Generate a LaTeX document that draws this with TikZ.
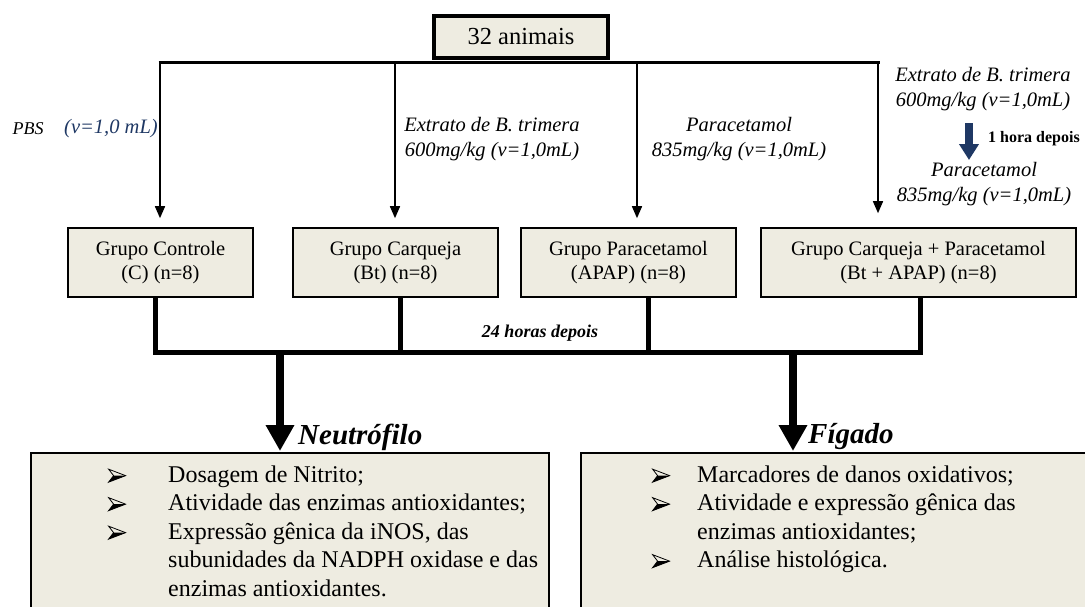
\documentclass[tikz,border=0pt]{standalone}
\usepackage{fontspec}
\setmainfont{Liberation Serif}
\usetikzlibrary{arrows.meta}
\definecolor{boxfill}{HTML}{EEECE1}
\definecolor{navyc}{HTML}{1F3864}
\newcommand{\mybullet}{\tikz[x=1pt,y=1pt,baseline=0pt,line join=miter]{%
  \fill[black] (0,0)--(17,6.5)--(5,6.5)--cycle;
  \draw[line width=0.8pt] (0,13)--(17,6.5)--(0,0)--(5,6.5)--cycle;}}
\begin{document}
\begin{tikzpicture}[x=1pt,y=-1pt,
  grp/.style={draw, line width=1.6pt, fill=boxfill, minimum height=69pt, align=center,
    font=\fontsize{20.5}{24}\selectfont, inner sep=0pt},
  topbox/.style={draw, line width=4pt, fill=boxfill, minimum width=174pt, minimum height=42pt,
    font=\fontsize{24.5}{28}\selectfont, inner sep=0pt},
  lab/.style={align=center, font=\fontsize{20.5}{25}\selectfont\itshape, inner sep=0pt},
  thinarrow/.style={line width=1.5pt, -{Triangle[width=10pt,length=12pt]}},
  thickline/.style={line width=5pt},
  bigarrow/.style={line width=8.5pt, -{Triangle[width=27pt,length=26pt]}},
  bbox/.style={draw, line width=1.6pt, fill=boxfill, anchor=north west, inner sep=0pt},
  btext/.style={anchor=north west, inner sep=0pt, font=\fontsize{24}{28.5}\selectfont},
  head/.style={anchor=west, inner sep=0pt, font=\fontsize{29}{32}\selectfont\bfseries\itshape}
]
\useasboundingbox (0,0) rectangle (1085,606);

% top box and distribution line
\node[topbox] (top) at (521,37) {32 animais};
\coordinate (h1) at (160,62);
\coordinate (h2) at (395,62);
\coordinate (h3) at (637,62);
\coordinate (h4) at (878,62);
\draw[line width=3pt] ([xshift=-1.5pt]h1) -- ([xshift=1.5pt]h4);

% group boxes
\node[grp, minimum width=185pt] (gC) at (160.5,262.5) {Grupo Controle\\(C) (n=8)};
\node[grp, minimum width=205pt] (gB) at (395.5,262.5) {Grupo Carqueja\\(Bt) (n=8)};
\node[grp, minimum width=215pt] (gP) at (628.5,262.5) {Grupo Paracetamol\\(APAP) (n=8)};
\node[grp, minimum width=315pt] (gBP) at (918.5,262.5) {Grupo Carqueja + Paracetamol\\(Bt + APAP) (n=8)};

% arrows to groups
\draw[thinarrow] (h1) -- ([yshift=9pt]h1 |- gC.north);
\draw[thinarrow] (h2) -- ([yshift=9pt]h2 |- gB.north);
\draw[thinarrow] (h3) -- ([yshift=9pt]h3 |- gP.north);
\draw[thinarrow] (h4) -- ([yshift=14pt]h4 |- gBP.north);

% treatment labels
\node[inner sep=0pt, font=\fontsize{18}{22}\selectfont\itshape] (pbs) at (28,129) {PBS};
\node[inner sep=0pt, font=\fontsize{20.5}{25}\selectfont\itshape, text=navyc] (pbsv) at (111,129) {(v=1,0 mL)};
\node[lab] (lB) at (492,139.5) {Extrato de B. trimera\\600mg/kg (v=1,0mL)};
\node[lab] (lP) at (739,139.5) {Paracetamol\\835mg/kg (v=1,0mL)};
\node[lab] (lR1) at (983,89) {Extrato de B. trimera\\600mg/kg (v=1,0mL)};
\node[lab] (lR2) at (984,184.5) {Paracetamol\\835mg/kg (v=1,0mL)};
\coordinate (na1) at (969,123);
\coordinate (na2) at (969,160);
\draw[navyc, line width=8pt, -{Triangle[width=19pt,length=16pt]}] (na1) -- (na2);
\node[anchor=west, inner sep=0pt, font=\fontsize{16}{18}\selectfont\bfseries] (hr) at (988,139) {1 hora depois};

% collecting lines
\coordinate (j1) at (155,352);
\coordinate (j2) at (400,352);
\coordinate (j3) at (648,352);
\coordinate (j4) at (920,352);
\draw[thickline] (j1 |- gC.south) -- (j1) -- (j4) -- (j4 |- gBP.south);
\draw[thickline] (j2 |- gB.south) -- (j2);
\draw[thickline] (j3 |- gP.south) -- (j3);
\node[inner sep=0pt, font=\fontsize{18}{20}\selectfont\bfseries\itshape] (h24) at (540,333) {24 horas depois};

% bottom boxes
\node[bbox, minimum width=518pt, minimum height=170pt] (nL) at (30,452) {};
\node[bbox, minimum width=520pt, minimum height=170pt] (nR) at (580,452) {};
\coordinate (d1) at (280,352);
\coordinate (d2) at (793,352);
\draw[bigarrow] (d1) -- ([yshift=1pt]d1 |- nL.north);
\draw[bigarrow] (d2) -- ([yshift=1pt]d2 |- nR.north);
\node[head] (hn) at (298,437) {Neutrófilo};
\node[head] (hf) at (808,437) {Fígado};

\node[btext] (tL) at (108,462) {\begin{tabular}{@{}l@{}l@{}}
\makebox[60pt][l]{\mybullet} & Dosagem de Nitrito;\\
\makebox[60pt][l]{\mybullet} & Atividade das enzimas antioxidantes;\\
\makebox[60pt][l]{\mybullet} & Expressão gênica da iNOS, das\\
 & subunidades da NADPH oxidase e das\\
 & enzimas antioxidantes.
\end{tabular}};
\node[btext] (tR) at (652,462) {\begin{tabular}{@{}l@{}l@{}}
\makebox[45pt][l]{\mybullet} & Marcadores de danos oxidativos;\\
\makebox[45pt][l]{\mybullet} & Atividade e expressão gênica das\\
 & enzimas antioxidantes;\\
\makebox[45pt][l]{\mybullet} & Análise histológica.
\end{tabular}};
\end{tikzpicture}
\end{document}
